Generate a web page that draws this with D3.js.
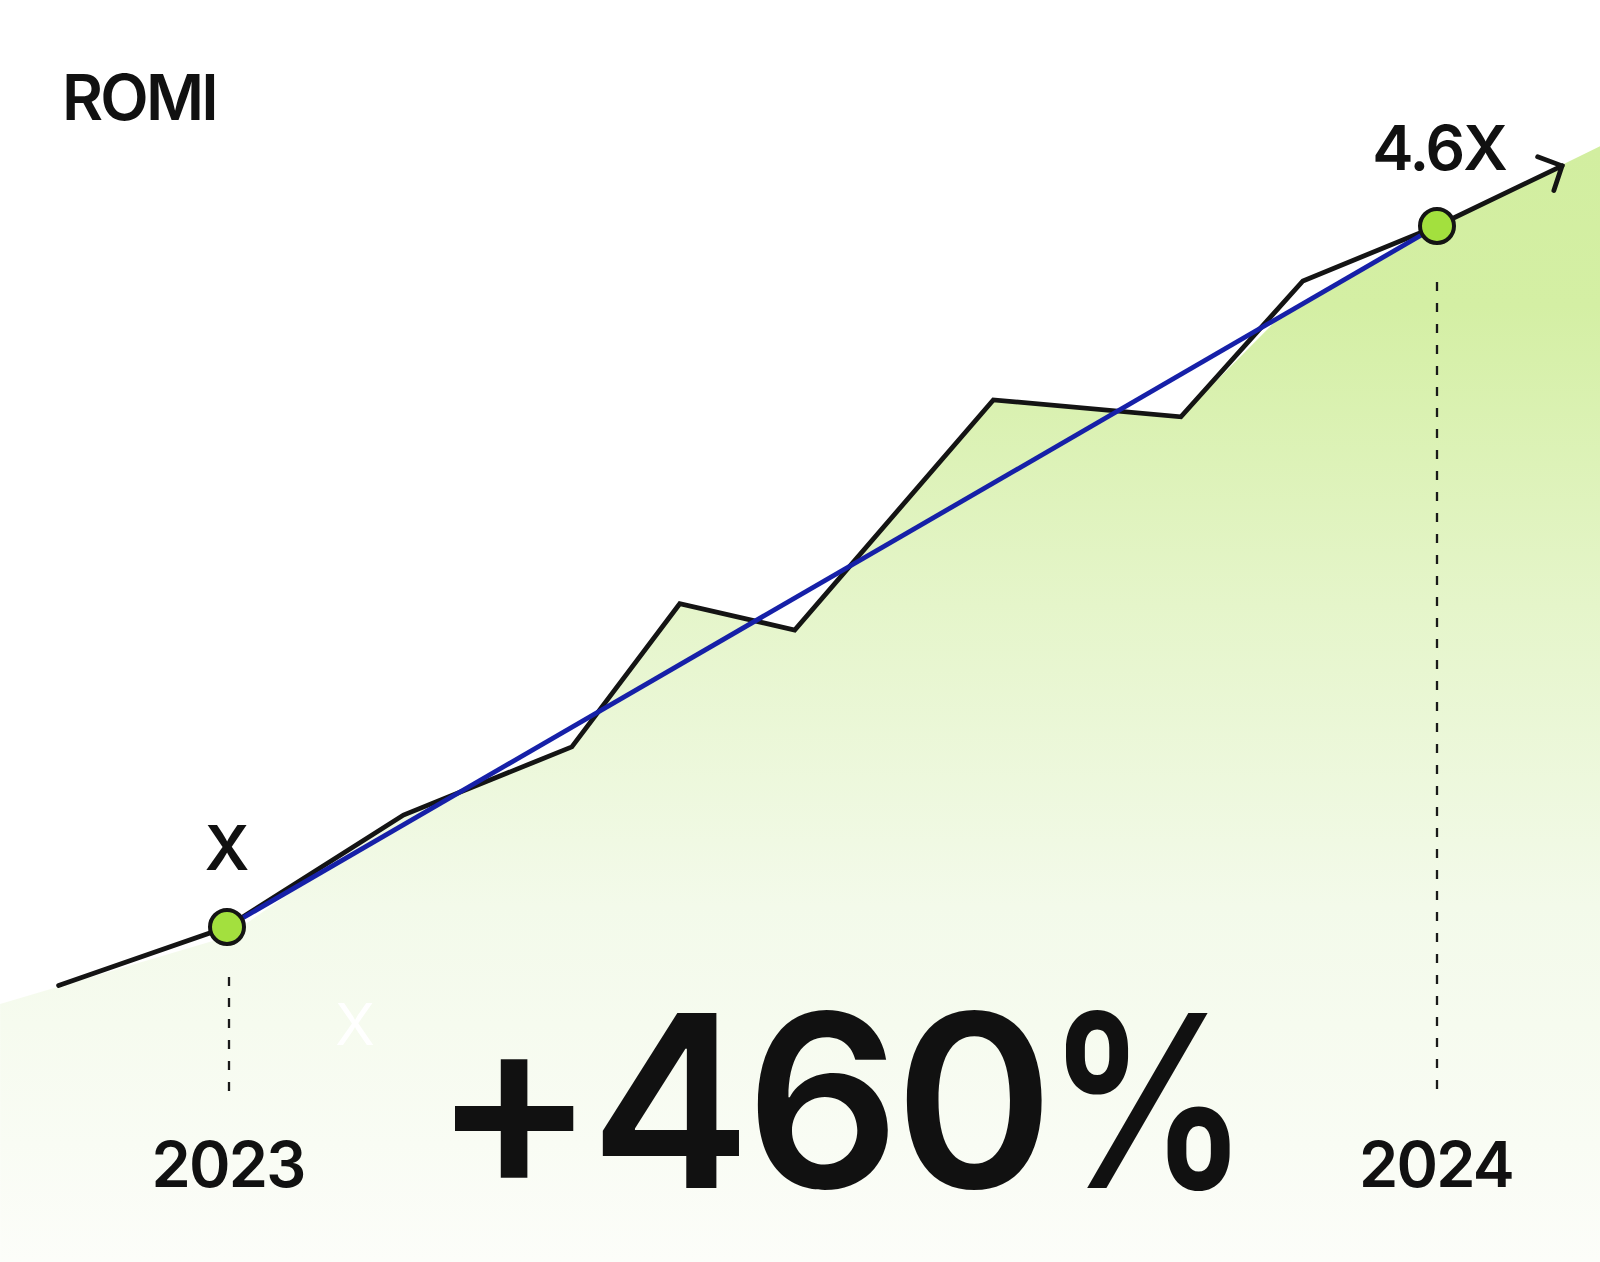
<!DOCTYPE html>
<html>
<head>
<meta charset="utf-8">
<script src="https://cdn.jsdelivr.net/npm/d3@7"></script>
<style>
  html, body { margin: 0; padding: 0; background: #ffffff; }
  svg { display: block; }
  text { font-family: Inter, "Noto Sans", sans-serif; fill: #111111; }
</style>
</head>
<body>
<svg id="chart" width="1600" height="1262"></svg>
<script>
// ---- data (x = months since start of 2023, y = ROMI multiple of X) ----
const romiMonths = [-1.67, 0, 1.75, 3.42, 4.49, 5.63, 7.60, 9.46, 10.67, 12];
const romiValues = [0.70, 1.00, 1.575, 1.925, 2.66, 2.525, 3.707, 3.62, 4.318, 4.6];
const arrowMonth = 13.24;
const arrowValue = 4.909;
const trendMonths = [0, 12];
const trendValues = [1.0, 4.6];
const areaMonths = [-2.25, 0, 1.75, 3.42, 4.49, 5.63, 7.60, 9.46, 10.44, 12, 13.62];
const areaValues = [0.605, 0.95, 1.575, 1.925, 2.66, 2.525, 3.707, 3.62, 4.133, 4.6, 5.011];
const markerMonths = [0, 12];
const markerValues = [1.0, 4.6];
const markerLabels = ["X", "4.6X"];
const yearLabels = ["2023", "2024"];
const titleText = "ROMI";
const headlineNumber = "+460";
const headlineUnit = "%";
const ghostText = "X";

const W = 1600, H = 1262;
const svg = d3.select("#chart");

const x = d3.scaleLinear().domain([0, 12]).range([227, 1437]);
const y = d3.scaleLinear().domain([1, 4.6]).range([927, 226]);

// gradient
const defs = svg.append("defs");
const grad = defs.append("linearGradient")
  .attr("id", "fillGrad").attr("gradientUnits", "userSpaceOnUse")
  .attr("x1", 0).attr("x2", 0).attr("y1", 150).attr("y2", H);
[[0, "#d2eea0"], [0.14, "#d4efa4"], [0.41, "#e5f5ca"], [0.68, "#f3faea"], [1, "#fcfdf9"]]
  .forEach(([o, c]) => grad.append("stop").attr("offset", o).attr("stop-color", c));

// area
const areaData = areaMonths.map((m, i) => ({ m, v: areaValues[i] }));
svg.append("path")
  .datum(areaData)
  .attr("d", d3.area().x(d => x(d.m)).y0(H).y1(d => y(d.v)))
  .attr("fill", "url(#fillGrad)");

// dashed guide lines
const guideTop = [977, 282];
const guideBottom = [1103, 1095];
markerMonths.forEach((m, i) => {
  svg.append("line")
    .attr("x1", x(m) + (i === 0 ? 2 : 0)).attr("x2", x(m) + (i === 0 ? 2 : 0))
    .attr("y1", guideTop[i]).attr("y2", guideBottom[i])
    .attr("stroke", "#1a1a1a").attr("stroke-width", 2.3)
    .attr("stroke-dasharray", "9 12");
});

// ghost label
svg.append("text")
  .attr("x", 355).attr("y", 1045)
  .attr("text-anchor", "middle")
  .attr("font-size", 58).attr("font-weight", 400)
  .style("fill", "#ffffff")
  .text(ghostText);

// black ROMI line with arrow
const lineData = romiMonths.map((m, i) => ({ m, v: romiValues[i] }));
lineData.push({ m: arrowMonth, v: arrowValue });
const line = d3.line().x(d => x(d.m)).y(d => y(d.v));
svg.append("path")
  .datum(lineData)
  .attr("d", line)
  .attr("fill", "none")
  .attr("stroke", "#141414").attr("stroke-width", 4.8)
  .attr("stroke-linejoin", "miter").attr("stroke-linecap", "round");

// arrowhead
{
  const n = lineData.length;
  const tx = x(lineData[n - 1].m), ty = y(lineData[n - 1].v);
  const px = x(lineData[n - 2].m), py = y(lineData[n - 2].v);
  const ang = Math.atan2(py - ty, px - tx);
  const len = 26, spread = 46 * Math.PI / 180;
  const a1 = [tx + len * Math.cos(ang + spread), ty + len * Math.sin(ang + spread)];
  const a2 = [tx + len * Math.cos(ang - spread), ty + len * Math.sin(ang - spread)];
  svg.append("path")
    .attr("d", `M${a1[0]},${a1[1]}L${tx},${ty}L${a2[0]},${a2[1]}`)
    .attr("fill", "none").attr("stroke", "#141414").attr("stroke-width", 4.8)
    .attr("stroke-linecap", "round").attr("stroke-linejoin", "miter");
}

// blue trend line
const trendData = trendMonths.map((m, i) => ({ m, v: trendValues[i] }));
svg.append("path")
  .datum(trendData)
  .attr("d", line)
  .attr("fill", "none")
  .attr("stroke", "#1620a8").attr("stroke-width", 4.8);

// markers
markerMonths.forEach((m, i) => {
  svg.append("circle")
    .attr("cx", x(m)).attr("cy", y(markerValues[i])).attr("r", 17)
    .attr("fill", "#a3e03e").attr("stroke", "#141414").attr("stroke-width", 4);
});

// marker labels
const labelPos = [[227, 870], [1439, 170]];
markerLabels.forEach((t, i) => {
  svg.append("text")
    .attr("x", labelPos[i][0]).attr("y", labelPos[i][1])
    .attr("text-anchor", "middle")
    .attr("font-size", 62).attr("font-weight", 600)
    .attr("letter-spacing", i === 1 ? -2 : 0)
    .text(t);
});

// year labels
markerMonths.forEach((m, i) => {
  svg.append("text")
    .attr("x", x(m) + (i === 0 ? 2 : 0) - 1).attr("y", 1187)
    .attr("text-anchor", "middle")
    .attr("font-size", 63).attr("font-weight", 600)
    .attr("letter-spacing", -1.8)
    .text(yearLabels[i]);
});

// title
svg.append("text")
  .attr("x", 62).attr("y", 120)
  .attr("font-size", 63).attr("font-weight", 600)
  .attr("letter-spacing", -2.8)
  .text(titleText);

// headline
svg.append("text")
  .attr("x", 433).attr("y", 1188)
  .attr("text-anchor", "start")
  .attr("font-size", 241).attr("font-weight", 600)
  .attr("letter-spacing", -5)
  .text(headlineNumber);
svg.append("text")
  .attr("transform", "translate(1148,1188) scale(0.84,1)")
  .attr("text-anchor", "middle")
  .attr("font-size", 241).attr("font-weight", 600)
  .text(headlineUnit);
</script>
</body>
</html>
